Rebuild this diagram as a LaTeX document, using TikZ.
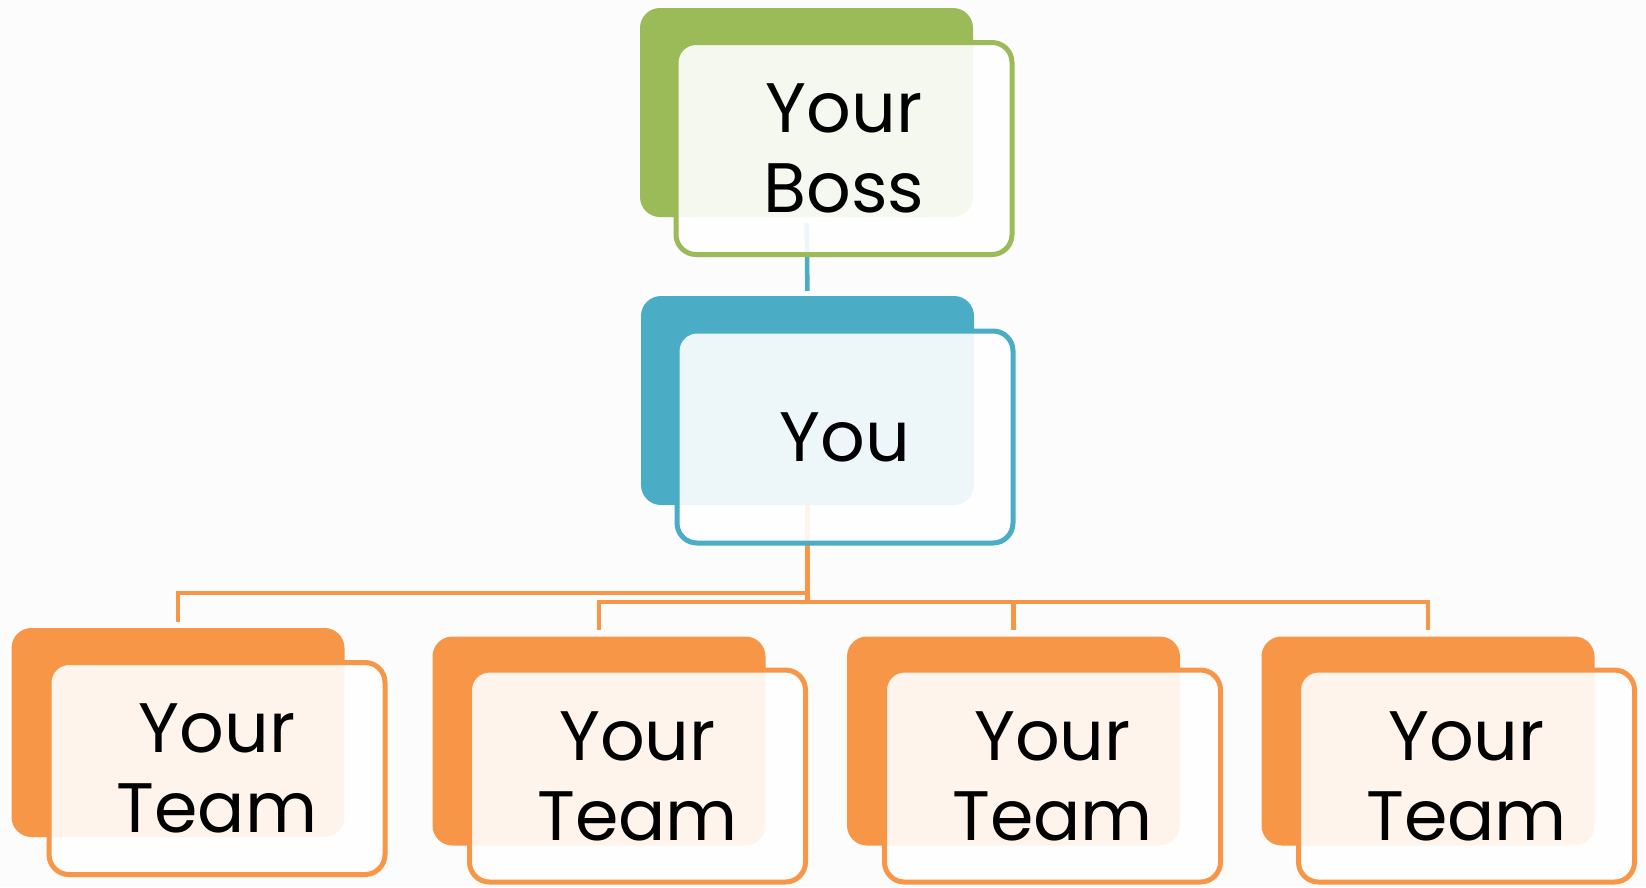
\documentclass[tikz,border=0pt]{standalone}
\usepackage{fontspec}
\setmainfont{Poppins}
\usetikzlibrary{positioning,backgrounds}

\definecolor{bossgreen}{HTML}{9BBB59}
\definecolor{youblue}{HTML}{4BACC6}
\definecolor{teamorange}{HTML}{F79646}
\definecolor{pagegray}{HTML}{FCFCFC}

\tikzset{
  backbox/.style={rectangle, rounded corners=20pt, inner sep=0pt,
    minimum width=333pt, minimum height=209pt},
  frontbox/.style={rectangle, rounded corners=20pt, inner sep=0pt, line width=5pt,
    fill=white, fill opacity=0.9, text opacity=1, align=center,
    minimum width=336pt, minimum height=212pt, font=\fontsize{70}{80}\selectfont},
  link/.style={line width=4.5pt},
}

\begin{document}
\begin{tikzpicture}[x=1pt, y=-1pt]
\useasboundingbox (0,0) rectangle (1646,887);

% Back cards
\node[backbox, fill=bossgreen] (bossb) at (806.5,112.5) {};
\node[backbox, fill=youblue] (youb) at (807.5,400.5) {};
\node[backbox, fill=teamorange] (t1b) at (178,732.5) {};
\node[backbox, fill=teamorange] (t2b) at (599,741) {};
\node[backbox, fill=teamorange] (t3b) at (1013.5,741) {};
\node[backbox, fill=teamorange] (t4b) at (1428,741) {};

% Front cards with the text
\node[frontbox, draw=bossgreen] (boss) at ([shift={(37.5,36)}]bossb) {Your\\Boss};
\node[frontbox, draw=youblue] (you) at ([shift={(37.5,36.5)}]youb) {You};
\node[frontbox, draw=teamorange] (team1) at ([shift={(39,36)}]t1b) {Your\\Team};
\node[frontbox, draw=teamorange] (team2) at ([shift={(38.5,35)}]t2b) {Your\\Team};
\node[frontbox, draw=teamorange] (team3) at ([shift={(39,35)}]t3b) {Your\\Team};
\node[frontbox, draw=teamorange] (team4) at ([shift={(38.5,35)}]t4b) {Your\\Team};

\begin{pgfonlayer}{background}
% Page
\fill[pagegray] (0,0) rectangle (1646,887);

% Boss to you
\draw[link, youblue, shorten <=6pt, shorten >=5pt] (bossb.south) -- (youb.north);

% You to the teams
\draw[link, teamorange] (youb.south) |- (t1b.north |- 0,593) -- ([yshift=6pt]t1b.north);
\draw[link, teamorange] (youb.south) -- (youb.south |- 0,602);
\draw[link, teamorange] ([yshift=6pt]t2b.north) |- (t4b.north |- 0,602) -- ([yshift=6pt]t4b.north);
\draw[link, teamorange] (t3b.north |- 0,602) -- ([yshift=6pt]t3b.north);
\end{pgfonlayer}

\end{tikzpicture}
\end{document}
